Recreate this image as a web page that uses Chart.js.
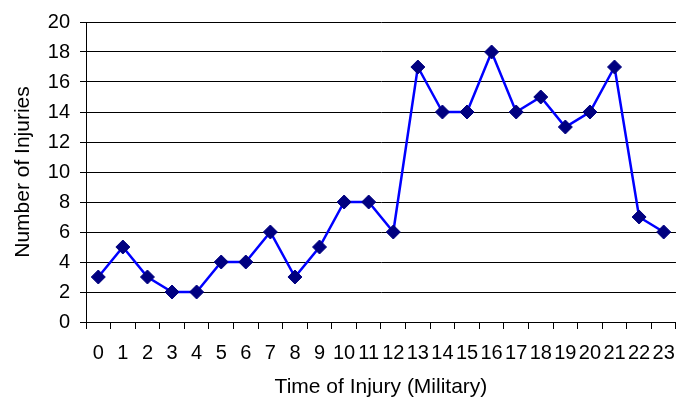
<!DOCTYPE html>
<html>
<head>
<meta charset="utf-8">
<script src="https://cdn.jsdelivr.net/npm/chart.js@4"></script>
<style>
  html, body { margin: 0; padding: 0; background: #fff; }
  #wrap { width: 687px; height: 403px; }
</style>
</head>
<body>
<div id="wrap"><canvas id="injuryChart" width="687" height="403"></canvas></div>
<script>
// ── Data ─────────────────────────────────────────────
const hours    = ['0','1','2','3','4','5','6','7','8','9','10','11','12','13','14','15','16','17','18','19','20','21','22','23'];
const injuries = [3, 5, 3, 2, 2, 4, 4, 6, 3, 5, 8, 8, 6, 17, 14, 14, 18, 14, 15, 13, 14, 17, 7, 6];
const yTicks   = [0, 2, 4, 6, 8, 10, 12, 14, 16, 18, 20];

const tickFont  = { family: 'Liberation Sans, Arial, sans-serif', size: 20 };
const titleFont = { family: 'Liberation Sans, Arial, sans-serif', size: 21 };

new Chart(document.getElementById('injuryChart'), {
  type: 'line',
  data: {
    labels: hours,
    datasets: [{
      data: injuries,
      borderColor: '#0000FF',
      borderWidth: 2.5,
      pointStyle: 'rectRot',
      pointRadius: 7,
      pointBackgroundColor: '#000080',
      pointBorderColor: '#000080',
      pointBorderWidth: 1,
      tension: 0
    }]
  },
  options: {
    responsive: false,
    animation: false,
    layout: { padding: { top: 18, right: 9, left: 0, bottom: 3 } },
    plugins: { legend: { display: false }, tooltip: { enabled: false } },
    scales: {
      x: {
        type: 'category',
        offset: true,
        grid: {
          offset: true,
          drawOnChartArea: true,
          color: ctx => ctx.index === hours.length ? '#555' : 'rgba(0,0,0,0)',
          tickColor: '#000',
          tickLength: 7
        },
        border: { color: '#000', width: 1 },
        ticks: { font: tickFont, color: '#000', padding: 12, maxRotation: 0, autoSkip: false },
        title: { display: true, text: 'Time of Injury (Military)', font: titleFont, color: '#000', padding: { top: 4, bottom: 0 } },
        afterFit: s => { s.height = 78; }
      },
      y: {
        min: 0,
        max: 20,
        afterBuildTicks: s => { s.ticks = yTicks.map(v => ({ value: v })); },
        grid: { color: '#000', tickColor: '#000', tickLength: 6, lineWidth: 1 },
        border: { color: '#000', width: 1 },
        ticks: { font: tickFont, color: '#000', padding: 10 },
        title: { display: true, text: 'Number of Injuries', font: titleFont, color: '#000', padding: { top: 11, bottom: 0 } },
        afterFit: s => { s.width = 86; }
      }
    }
  }
});
</script>
</body>
</html>
